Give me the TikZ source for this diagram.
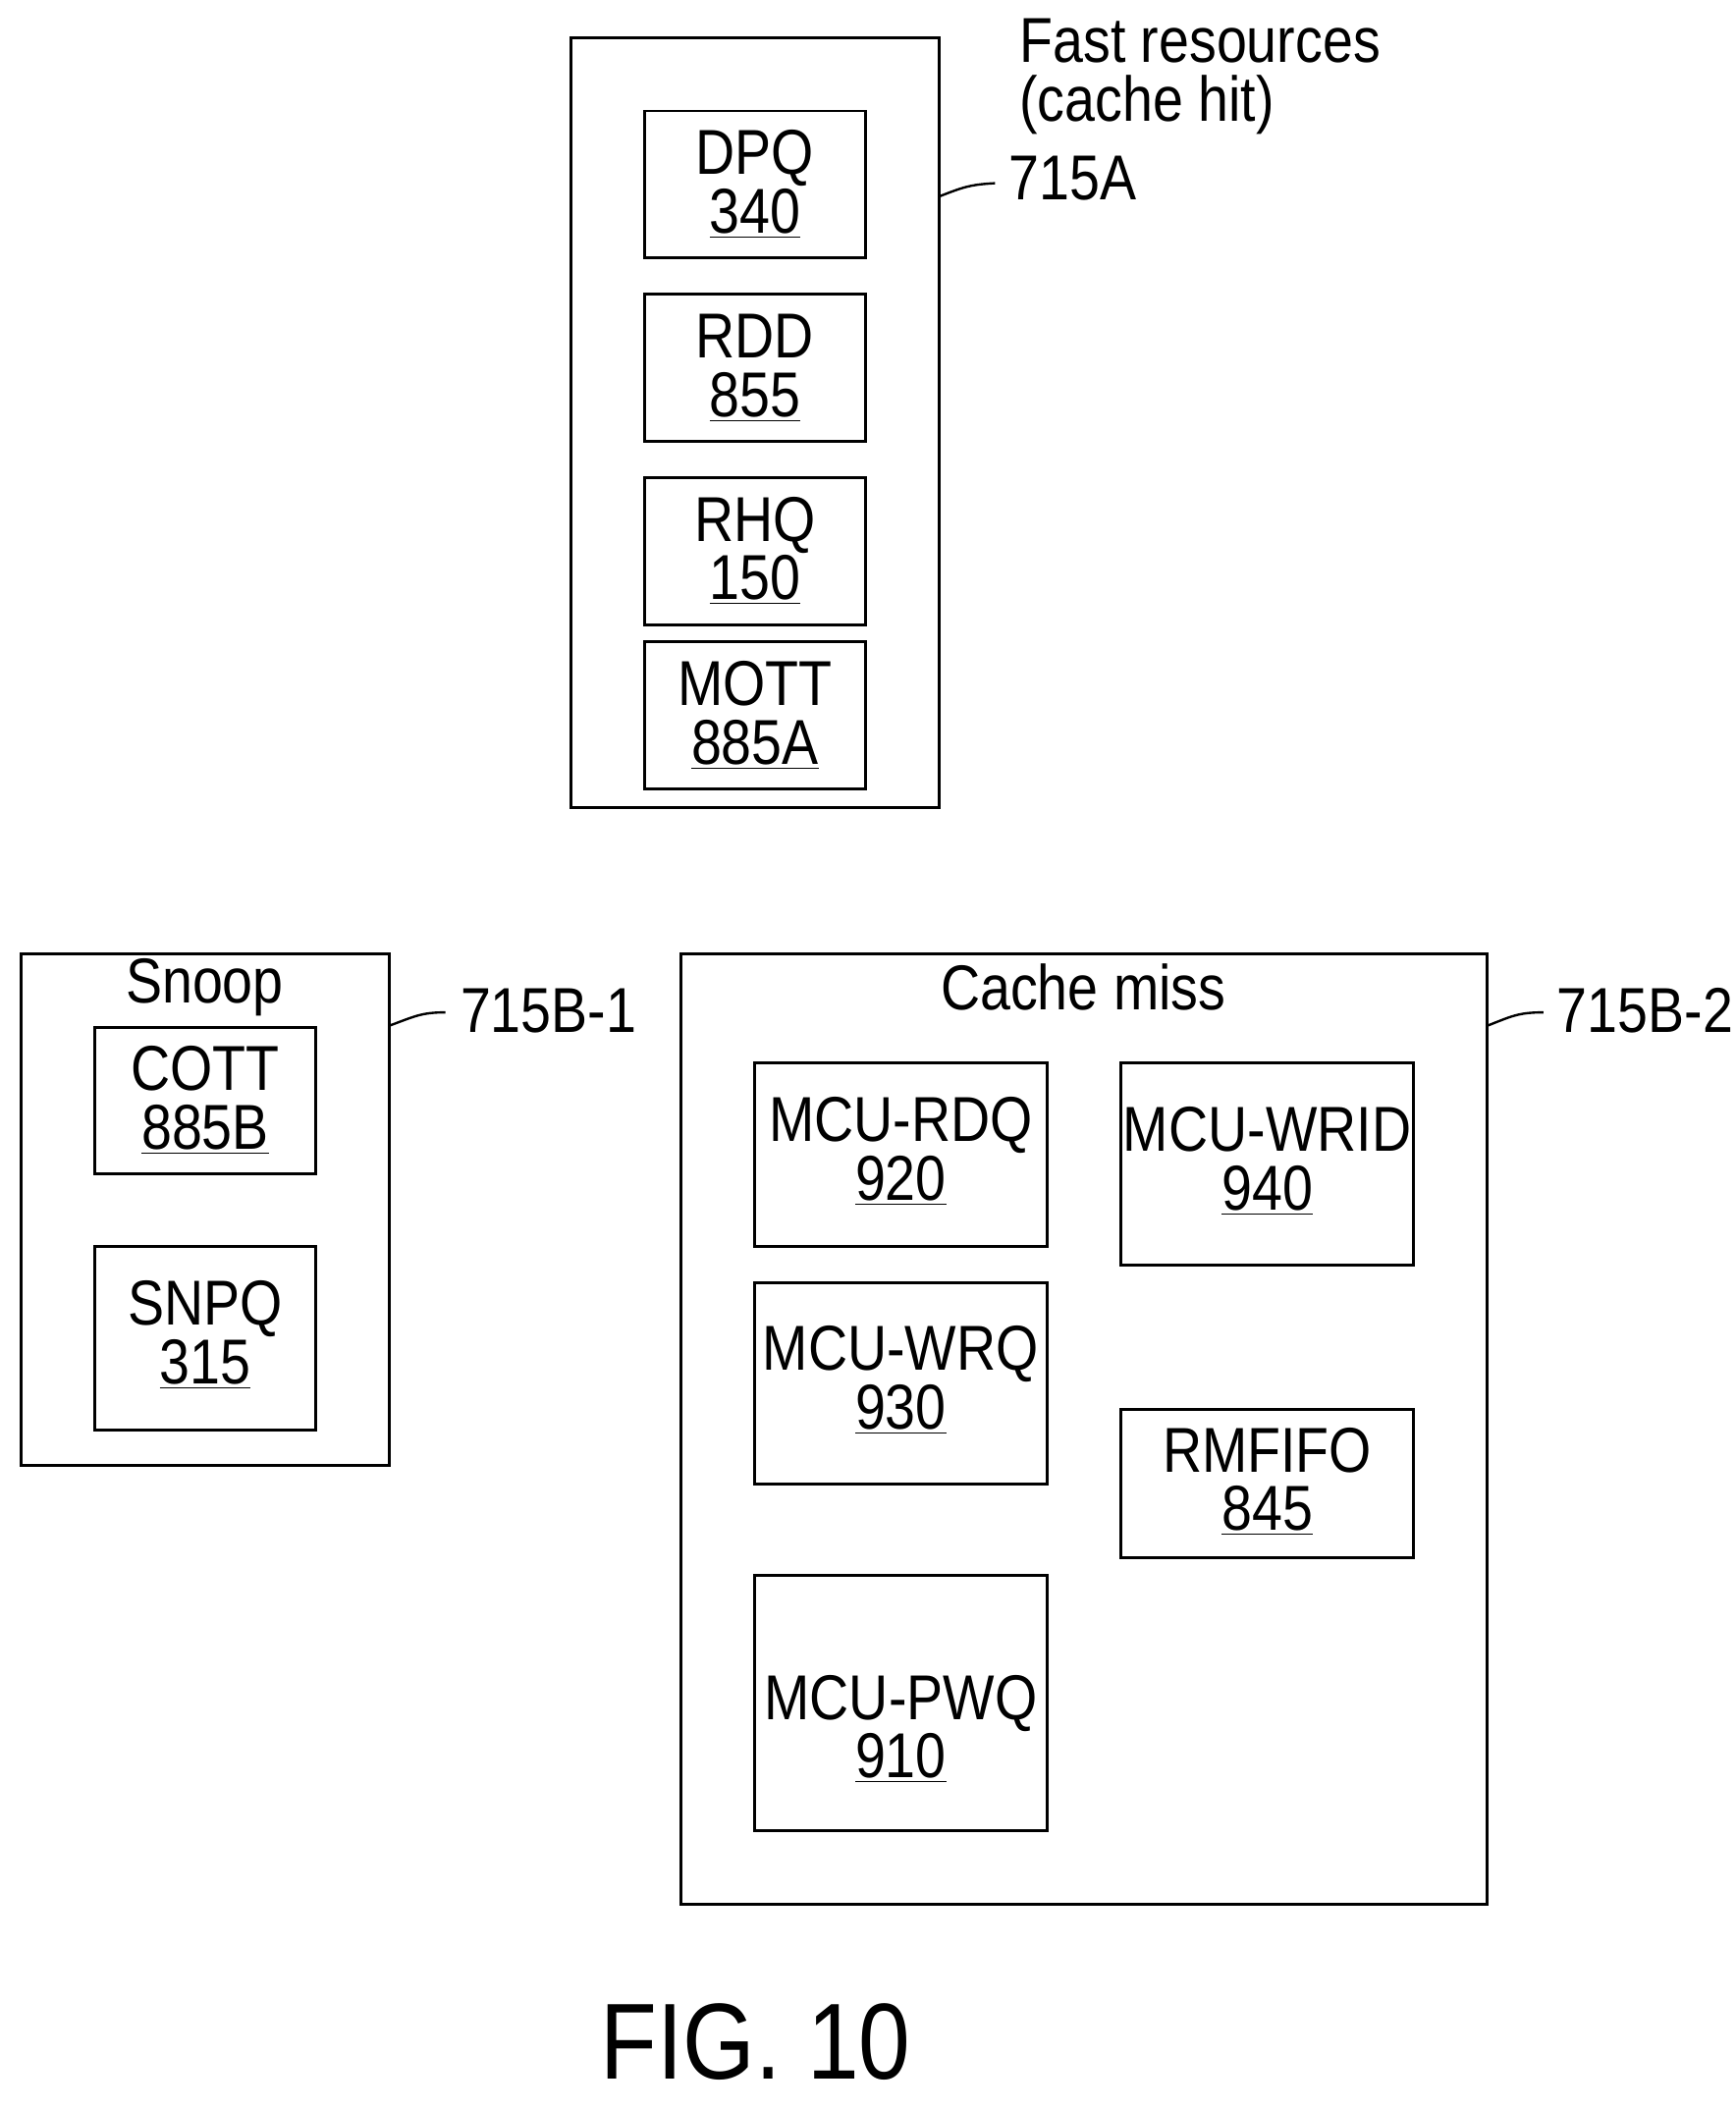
\documentclass[tikz,border=0pt]{standalone}
\usepackage{fontspec}
\setmainfont{Liberation Sans}[FakeStretch=0.86]
\begin{document}
\begin{tikzpicture}[x=0.02cm,y=-0.02cm,
  bx/.style={draw,line width=1.2pt},
  t/.style={font=\fontsize{27}{25}\selectfont,align=center,inner sep=0},
  lead/.style={line width=1pt}]
\useasboundingbox (0,0) rectangle (1298,1577);
% 715A
\draw[bx] (427,28) rectangle (702,604);
\foreach \n/\a/\b/\ya/\yb in {dpq/DPQ/340/83/193,rdd/RDD/855/220/330,rhq/RHQ/150/357/467,mott/MOTT/885A/480/590}{
  \draw[bx] (482,\ya) rectangle (647,\yb);
  \node[t] (\n) at (564.5,{(\ya+\yb)/2}) {\a\\\underline{\b}};
}
\node[t,align=left,anchor=north west] (fast) at (762,14) {Fast resources\\(cache hit)};
\node[t,anchor=west] (la) at (754,133) {715A};
\draw[lead] (702,147) .. controls (720,140) and (725,138) .. (744,137);
% 715B-1
\draw[bx] (16,713) rectangle (291,1096);
\node[t] (snoop) at (153,738) {Snoop};
\draw[bx] (71,768) rectangle (236,878);
\node[t] (cott) at (153.5,823) {COTT\\\underline{885B}};
\draw[bx] (71,932) rectangle (236,1069);
\node[t] (snpq) at (153.5,998) {SNPQ\\\underline{315}};
\node[t,anchor=west] (lb1) at (344,756) {715B-1};
\draw[lead] (291,767) .. controls (310,760) and (315,757) .. (333,757);
% 715B-2
\draw[bx] (509,713) rectangle (1112,1424);
\node[t] (miss) at (810,738) {Cache miss};
\draw[bx] (564,795) rectangle (783,932);
\node[t] (rdq) at (673.5,861) {MCU-RDQ\\\underline{920}};
\draw[bx] (838,795) rectangle (1057,946);
\node[t] (wrid) at (947.5,868) {MCU-WRID\\\underline{940}};
\draw[bx] (564,959) rectangle (783,1110);
\node[t] (wrq) at (673.5,1032) {MCU-WRQ\\\underline{930}};
\draw[bx] (838,1054) rectangle (1057,1165);
\node[t] (rmf) at (947.5,1108) {RMFIFO\\\underline{845}};
\draw[bx] (564,1178) rectangle (783,1369);
\node[t] (pwq) at (673.5,1293) {MCU-PWQ\\\underline{910}};
\node[t,anchor=west] (lb2) at (1164,756) {715B-2};
\draw[lead] (1112,767) .. controls (1130,760) and (1135,757) .. (1154,757);
\node[t,font=\fontsize{46}{50}\selectfont] (fig) at (565,1527) {FIG. 10};
\end{tikzpicture}
\end{document}
